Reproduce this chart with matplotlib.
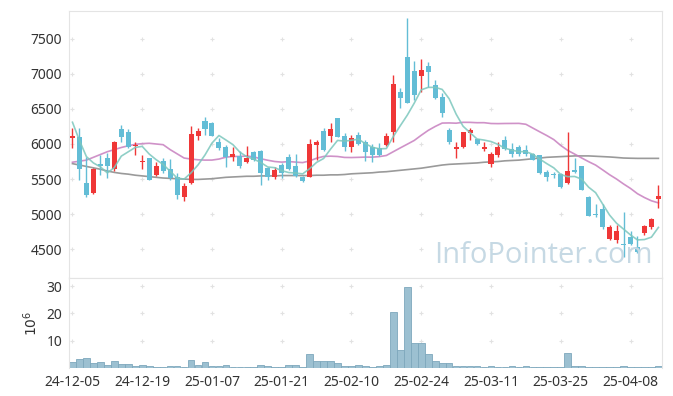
import matplotlib.pyplot as plt
import numpy as np
import pandas as pd

plt.rcParams['font.family'] = ['Noto Sans', 'DejaVu Sans']

# daily candles, 24-12-05 .. 25-04-14 (85 trading days)
opens = [6090, 6100, 5450, 5300, 5720, 5800, 5650, 6220, 6175, 5965,
         5745, 5795, 5560, 5760, 5640, 5535, 5240, 5440, 6120, 6330,
         6295, 6035, 5960, 5820, 5830, 5740, 5890, 5900, 5655, 5535,
         5700, 5810, 5685, 5535, 5525, 5990, 6185, 6120, 6365, 6115,
         5950, 6130, 6025, 5960, 5940, 5985, 6165, 6745, 7245, 7045,
         6970, 7110, 6840, 6665, 6200, 5925, 5950, 6150, 6065, 5925,
         5715, 5840, 6060, 5925, 5960, 5915, 5855, 5845, 5595, 5565,
         5575, 5440, 5625, 5680, 5250, 5005, 5070, 4645, 4625, 4580,
         4680, 4525, 4730, 4810, 5220]
highs = [6230, 6230, 5820, 5660, 5840, 5870, 6040, 6270, 6210, 6030,
         5840, 5800, 5750, 5800, 5780, 5585, 5450, 6255, 6230, 6390,
         6310, 6080, 5985, 5960, 5905, 5970, 5900, 5915, 5675, 5675,
         5730, 5855, 5855, 5550, 6065, 6055, 6230, 6295, 6370, 6150,
         6135, 6170, 6060, 5995, 6020, 6150, 6985, 6805, 7790, 7190,
         7210, 7170, 6910, 6720, 6230, 6035, 6165, 6230, 6075, 6035,
         5890, 6030, 6110, 6020, 5990, 5990, 5875, 5850, 5630, 5600,
         5580, 6165, 5795, 5685, 5260, 5145, 5145, 4845, 4845, 5035,
         4760, 4690, 4850, 4950, 5415]
lows = [5940, 5490, 5250, 5290, 5560, 5515, 5620, 6030, 5940, 5840,
        5650, 5480, 5550, 5590, 5490, 5215, 5190, 5430, 6055, 6130,
        6110, 5920, 5670, 5760, 5655, 5725, 5760, 5415, 5485, 5500,
        5520, 5625, 5535, 5460, 5525, 5770, 5895, 6035, 6095, 5905,
        5885, 5980, 5755, 5745, 5830, 5975, 6030, 6520, 6590, 6630,
        6745, 6810, 6635, 6390, 6000, 5795, 5940, 6060, 5980, 5900,
        5670, 5820, 5915, 5820, 5830, 5830, 5770, 5575, 5475, 5520,
        5370, 5430, 5580, 5340, 4970, 4965, 4790, 4630, 4595, 4395,
        4560, 4440, 4700, 4790, 5085]
closes = [6110, 5650, 5280, 5650, 5680, 5680, 6030, 6095, 5960, 5990,
          5755, 5485, 5690, 5620, 5510, 5275, 5400, 6140, 6185, 6220,
          6120, 5940, 5820, 5855, 5680, 5795, 5770, 5580, 5535, 5630,
          5580, 5640, 5545, 5475, 6000, 6030, 5915, 6215, 6095, 5950,
          6090, 5995, 5890, 5840, 5840, 6110, 6855, 6660, 6590, 6700,
          7055, 7030, 6660, 6445, 6035, 5960, 6165, 6200, 5995, 5960,
          5855, 5960, 5930, 5855, 5855, 5855, 5770, 5585, 5535, 5555,
          5380, 5615, 5600, 5345, 4980, 4990, 4810, 4810, 4760, 4565,
          4575, 4455, 4835, 4930, 5260]
volumes = [2.3, 3.3, 3.7, 1.8, 2.3, 1.1, 2.7, 1.5, 1.5, 0.7,
           1.1, 0.7, 0.3, 0.3, 0.7, 0.7, 0.3, 2.9, 1.1, 2.3,
           0.8, 0.8, 1.1, 0.4, 0.4, 0.4, 0.4, 1.1, 0.8, 0.4,
           0.4, 1.1, 1.1, 0.4, 5.1, 2.7, 2.7, 2.7, 1.8, 0.7,
           0.7, 1.1, 0.7, 0.4, 0.7, 1.1, 20.6, 6.6, 29.8, 9.2,
           9.2, 5.1, 2.7, 1.8, 1.8, 0.7, 0.7, 0.7, 0.7, 0.4,
           0.7, 0.4, 0.4, 0.7, 0.4, 0.7, 0.4, 0.4, 0.4, 0.4,
           0.4, 5.5, 0.7, 0.7, 0.4, 0.4, 0.4, 0.2, 0.4, 0.7,
           0.4, 0.4, 0.4, 0.4, 0.7]

# first values of the averages need days before the window
ma5_head = [6310, 6050, 5820, 5730]
ma20_head = [5740, 5755, 5770, 5810, 5850, 5890, 5920, 5950, 5975, 5995,
             6005, 6010, 6000, 5990, 5920, 5860, 5800, 5785, 5775]
# long average (gray)
ma_long = [5720, 5700, 5680, 5660, 5640, 5615, 5595, 5580, 5570, 5555,
           5545, 5535, 5525, 5515, 5510, 5505, 5500, 5495, 5495, 5500,
           5505, 5515, 5525, 5530, 5535, 5540, 5540, 5545, 5545, 5545,
           5550, 5550, 5550, 5550, 5550, 5555, 5555, 5560, 5560, 5565,
           5575, 5580, 5585, 5590, 5600, 5605, 5615, 5625, 5635, 5645,
           5655, 5670, 5685, 5700, 5710, 5715, 5720, 5725, 5730, 5740,
           5745, 5750, 5760, 5765, 5770, 5780, 5790, 5800, 5810, 5815,
           5820, 5825, 5830, 5830, 5830, 5825, 5820, 5815, 5808, 5800,
           5797, 5795, 5795, 5795, 5795]

tick_labels = ['24-12-05', '24-12-19', '25-01-07', '25-01-21', '25-02-10',
               '25-02-24', '25-03-11', '25-03-25', '25-04-08']

df = pd.DataFrame({'open': opens, 'high': highs, 'low': lows, 'close': closes, 'vol': volumes})
n = len(df)
x = np.arange(n)
ma5 = df.close.rolling(5).mean().values
ma5[:4] = ma5_head
ma20 = df.close.rolling(20).mean().values
ma20[:19] = ma20_head

up_color = '#ef3737'
down_color = '#63bdd6'
grid_color = '#e4e4e4'

fig = plt.figure(figsize=(6.73, 3.96), dpi=100)
ax = fig.add_axes([0.1025, 0.298, 0.881, 0.675])
axv = fig.add_axes([0.1025, 0.0707, 0.881, 0.2273], sharex=ax)

tick_pos = x[::10][:len(tick_labels)]
price_ticks = [4500, 5000, 5500, 6000, 6500, 7000, 7500]
vol_ticks = [10, 20, 30]

# faint plus marks at the grid crossings
gx, gy = np.meshgrid(tick_pos, price_ticks)
ax.scatter(gx.ravel(), gy.ravel(), marker='+', s=12, color='#e2e2e2', linewidths=0.8, zorder=0)
gx, gy = np.meshgrid(tick_pos, vol_ticks)
axv.scatter(gx.ravel(), gy.ravel(), marker='+', s=12, color='#e2e2e2', linewidths=0.8, zorder=0)

for i, row in df.iterrows():
    c = up_color if row.close >= row.open else down_color
    ax.vlines(i, row.low, row.high, color=c, linewidth=1, zorder=2)
    lo = min(row.open, row.close)
    h = max(abs(row.close - row.open), 12)
    ax.bar(i, h, bottom=lo, width=0.72, color=c, linewidth=0, zorder=3)

ax.plot(x, ma_long, color='#8f8f8f', linewidth=1.2, alpha=0.9, zorder=1)
ax.plot(x, ma20, color='#c77fbf', linewidth=1.2, alpha=0.85, zorder=1)
ax.plot(x, ma5, color='#7cc7bd', linewidth=1.2, alpha=0.85, zorder=4)

ax.text(0.80, 0.085, 'InfoPointer.com', transform=ax.transAxes, ha='center', va='center',
        fontsize=21, color='#c6d9e4', fontfamily='Open Sans', zorder=5)

axv.bar(x, df.vol, width=0.96, color='#9cc0d1', edgecolor='#7ea8bc', linewidth=0.6)

ax.set_xlim(-0.5, n - 0.5)
ax.set_ylim(4090, 7900)
ax.set_yticks(price_ticks)
axv.set_ylim(0, 33)
axv.set_yticks(vol_ticks)
axv.set_xticks(tick_pos)
axv.set_xticklabels(tick_labels)
axv.set_ylabel('$10^6$', fontsize=10, color='#333333', labelpad=4)

for a in (ax, axv):
    for s in a.spines.values():
        s.set_color(grid_color)
    a.tick_params(length=0, labelsize=10, colors='#333333', pad=5)
axv.spines['bottom'].set_visible(False)
ax.tick_params(labelbottom=False)

plt.savefig('out.png', dpi=100)
